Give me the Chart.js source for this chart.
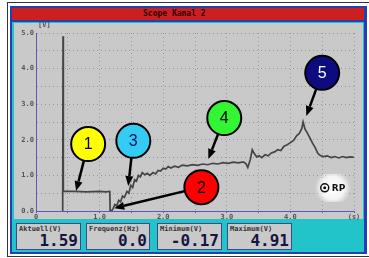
<!DOCTYPE html>
<html>
<head>
<meta charset="utf-8">
<script src="https://cdn.jsdelivr.net/npm/chart.js@4.4.1/dist/chart.umd.min.js"></script>
<style>
html, body { margin: 0; padding: 0; background: #fff; }
#wrap { position: relative; width: 369px; height: 258px; overflow: hidden; }
.abs { position: absolute; }
.box { position: absolute; top: 223px; height: 27px; background: #c9c9c9; border: 1px solid #3a4a8a; box-sizing: border-box; }
.box .lbl { position: absolute; left: 2px; top: 1px; font: bold 7px "DejaVu Sans Mono", monospace; color: #333; white-space: nowrap; }
.box .val { position: absolute; right: 2px; bottom: 0px; font: bold 16px "DejaVu Sans Mono", monospace; color: #15153f; line-height: 17px; }
</style>
</head>
<body>
<div id="wrap">
    <div class="abs" style="left:7px;top:2px;width:362px;height:253px;border-left:1px solid #333;border-top:1px solid #333;border-bottom:1px solid #333;"></div>
    <div class="abs" style="left:10px;top:6px;width:357px;height:248px;background:#2340b0;"></div>
    <div class="abs" style="left:12px;top:8px;width:352px;height:244px;background:#22c3c9;"></div>
    <div class="abs" style="left:12px;top:8px;width:352px;height:12px;background:#cc2020;"></div>
    <div class="abs" style="left:12px;top:20px;width:352px;height:2px;background:#2340b0;"></div>
    <div class="abs" style="left:143px;top:9px;font:bold 8px 'DejaVu Sans Mono',monospace;color:#2a0000;line-height:10px;">Scope Kanal 2</div>
    <div class="abs" style="left:14px;top:23px;width:349px;height:196px;background:#c9c9c9;"></div>

    <div class="box" style="left:16px;width:65px;"><span class="lbl">Aktuell(V)</span><span class="val">1.59</span></div>
    <div class="box" style="left:86px;width:64px;"><span class="lbl">Frequenz(Hz)</span><span class="val">0.0</span></div>
    <div class="box" style="left:157px;width:65px;"><span class="lbl">Minimum(V)</span><span class="val">-0.17</span></div>
    <div class="box" style="left:227px;width:65px;"><span class="lbl">Maximum(V)</span><span class="val">4.91</span></div>

    <canvas id="scope" class="abs" width="369" height="258" style="left:0;top:0;width:369px;height:258px;"></canvas>
</div>

<script>
// trace of channel 2
const timeSec = [
    0.42, 0.425, 0.43, 0.6, 0.8, 1.0, 1.1, 1.16, 1.165, 1.17, 1.19,
    1.21, 1.24, 1.27, 1.30, 1.33, 1.36, 1.39, 1.43, 1.46, 1.49, 1.52, 1.55,
    1.58, 1.61, 1.64, 1.67, 1.71, 1.75, 1.79, 1.84, 1.88, 1.92, 1.96, 2.00,
    2.04, 2.08, 2.12, 2.18, 2.24, 2.30, 2.38, 2.46, 2.54, 2.62, 2.70, 2.78,
    2.86, 2.94, 3.02, 3.10, 3.18, 3.26, 3.30, 3.33, 3.37, 3.40, 3.43, 3.47,
    3.51, 3.55, 3.60, 3.65, 3.70, 3.75, 3.80, 3.85, 3.90, 3.95, 4.00, 4.05,
    4.10, 4.14, 4.18, 4.20, 4.23, 4.27, 4.31, 4.35, 4.39, 4.43, 4.47, 4.52,
    4.58, 4.64, 4.70, 4.76, 4.82, 4.88, 4.94, 5.00
];
const volts = [
    0, 4.91, 0.56, 0.55, 0.54, 0.55, 0.54, 0.55, 0.05, -0.17, 0.0,
    0.06, 0.18, 0.14, 0.30, 0.26, 0.42, 0.38, 0.55, 0.50, 0.72, 0.66, 0.88,
    0.84, 1.00, 0.96, 1.08, 1.02, 1.06, 1.00, 1.08, 1.04, 1.14, 1.12, 1.20,
    1.18, 1.25, 1.21, 1.26, 1.23, 1.29, 1.27, 1.30, 1.28, 1.32, 1.30, 1.34,
    1.32, 1.36, 1.34, 1.37, 1.35, 1.38, 1.33, 1.22, 1.45, 1.72, 1.62, 1.52,
    1.55, 1.50, 1.58, 1.55, 1.63, 1.66, 1.72, 1.70, 1.82, 1.86, 1.92, 1.98,
    2.12, 2.18, 2.32, 2.50, 2.30, 2.18, 2.04, 1.90, 1.78, 1.62, 1.56, 1.53,
    1.55, 1.50, 1.53, 1.49, 1.53, 1.50, 1.52, 1.51
];
const yTickLabels = ['0.0', '1.0', '2.0', '3.0', '4.0', '5.0'];
const xTickLabels = ['0', '1.0', '2.0', '3.0', '4.0', '(s)'];

// numbered markers: circle centre and arrow tip in (s, V)
const callouts = [
    { n: '1', fill: '#ffff00', ink: '#000', cx: 0.82, cy: 1.88, tx: 0.63, ty: 0.56 },
    { n: '3', fill: '#33ccf5', ink: '#101060', cx: 1.53, cy: 1.97, tx: 1.45, ty: 0.70 },
    { n: '4', fill: '#33f533', ink: '#000', cx: 2.96, cy: 2.61, tx: 2.71, ty: 1.46 },
    { n: '5', fill: '#0c0c80', ink: '#fff', cx: 4.50, cy: 3.88, tx: 4.25, ty: 2.67 },
    { n: '2', fill: '#ff0000', ink: '#000', cx: 2.60, cy: 0.67, tx: 1.23, ty: 0.08 }
];
const rpMark = { x: 4.54, y: 0.65 };

const mono = 'DejaVu Sans Mono';

const scopeDecor = {
    id: 'scopeDecor',
    afterDatasetsDraw(chart) {
        const { ctx, chartArea, scales } = chart;
        const px = v => scales.x.getPixelForValue(v);
        const py = v => scales.y.getPixelForValue(v);
        ctx.save();

        // unit of the y axis
        ctx.fillStyle = '#555';
        ctx.font = 'bold 7px ' + mono;
        ctx.textAlign = 'left';
        ctx.textBaseline = 'middle';
        ctx.fillText('[V]', chartArea.left + 2, chartArea.top - 8);

        // RP marker with its white halo
        const rx = px(rpMark.x), ry = py(rpMark.y);
        const g = ctx.createRadialGradient(rx + 8, ry, 2, rx + 8, ry, 18);
        g.addColorStop(0, 'rgba(255,255,255,1)');
        g.addColorStop(0.6, 'rgba(255,255,255,0.8)');
        g.addColorStop(1, 'rgba(255,255,255,0)');
        ctx.fillStyle = g;
        ctx.fillRect(rx - 12, ry - 14, 42, 28);
        ctx.strokeStyle = '#111';
        ctx.lineWidth = 1.5;
        ctx.beginPath();
        ctx.arc(rx, ry, 4, 0, Math.PI * 2);
        ctx.stroke();
        ctx.fillStyle = '#111';
        ctx.beginPath();
        ctx.arc(rx, ry, 1.5, 0, Math.PI * 2);
        ctx.fill();
        ctx.font = 'bold 9px "DejaVu Sans", sans-serif';
        ctx.fillText('RP', rx + 7, ry + 1);

        // callouts
        callouts.forEach(c => {
            const cx = px(c.cx), cy = py(c.cy), tx = px(c.tx), ty = py(c.ty);
            const ang = Math.atan2(ty - cy, tx - cx);
            const head = 10, half = 4;
            const bx = tx - Math.cos(ang) * head, by = ty - Math.sin(ang) * head;
            ctx.strokeStyle = '#000';
            ctx.lineWidth = 2.5;
            ctx.beginPath();
            ctx.moveTo(cx, cy);
            ctx.lineTo(bx, by);
            ctx.stroke();
            ctx.fillStyle = '#000';
            ctx.beginPath();
            ctx.moveTo(tx, ty);
            ctx.lineTo(bx - Math.sin(ang) * half, by + Math.cos(ang) * half);
            ctx.lineTo(bx + Math.sin(ang) * half, by - Math.cos(ang) * half);
            ctx.closePath();
            ctx.fill();

            ctx.fillStyle = c.fill;
            ctx.lineWidth = 2;
            ctx.beginPath();
            ctx.arc(cx, cy, 17, 0, Math.PI * 2);
            ctx.fill();
            ctx.stroke();
            ctx.fillStyle = c.ink;
            ctx.font = '16px "Liberation Sans", Arial, sans-serif';
            ctx.textAlign = 'center';
            ctx.textBaseline = 'middle';
            ctx.fillText(c.n, cx, cy + 1);
        });
        ctx.restore();
    }
};

new Chart(document.getElementById('scope'), {
    type: 'line',
    data: {
        datasets: [{
            data: timeSec.map((t, i) => ({ x: t, y: volts[i] })),
            borderColor: '#454545',
            borderWidth: 1.7,
            pointRadius: 0,
            tension: 0
        }]
    },
    options: {
        responsive: false,
        animation: false,
        layout: { padding: { left: 0, right: 15, top: 33, bottom: 0 } },
        plugins: { legend: { display: false }, tooltip: { enabled: false } },
        scales: {
            x: {
                type: 'linear',
                min: 0,
                max: 5,
                afterFit: s => { s.height = 47; },
                grid: { color: '#959595', lineWidth: 1, tickLength: 2, tickColor: '#5a5ab8', tickBorderDash: [] },
                border: { color: '#5a5ab8', width: 1, dash: [1, 3] },
                ticks: {
                    stepSize: 0.5,
                    autoSkip: false,
                    maxRotation: 0,
                    padding: 0,
                    color: '#555',
                    font: { family: mono, size: 7, weight: 'bold' },
                    callback: v => (v % 1 === 0 ? xTickLabels[v] : '')
                }
            },
            y: {
                min: 0,
                max: 5,
                afterFit: s => { s.width = 36; },
                grid: { color: '#959595', lineWidth: 1, drawTicks: false },
                border: { color: '#5a5ab8', width: 1, dash: [1, 3] },
                ticks: {
                    stepSize: 0.5,
                    autoSkip: false,
                    padding: 2,
                    color: '#555',
                    font: { family: mono, size: 7, weight: 'bold' },
                    callback: v => (v % 1 === 0 ? yTickLabels[v] : '')
                }
            }
        }
    },
    plugins: [scopeDecor]
});
</script>
</body>
</html>
